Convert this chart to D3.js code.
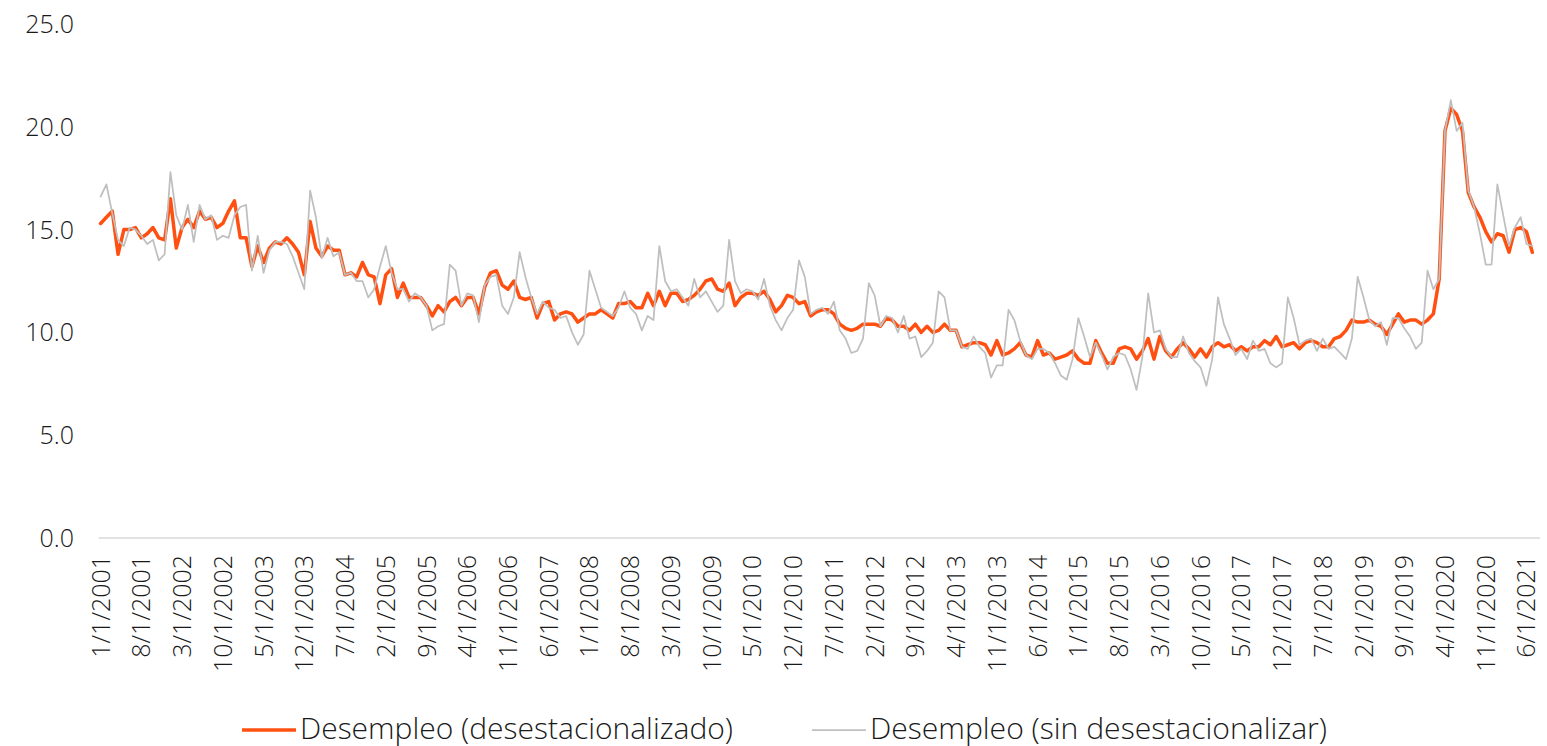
<!DOCTYPE html>
<html lang="es">
	<head>
		<meta charset="utf-8">
		<title>Desempleo</title>
		<script type="text/javascript" src="https://cdn.jsdelivr.net/npm/d3@7"></script>
		<style type="text/css">
		body { margin: 0; background: #fff; }
		text { font-family: "Open Sans", "Lato", sans-serif; font-weight: 300; fill: #1a1a1a; }
		</style>
	</head>
	<body>
		<script type="text/javascript">

		//Width and height
		var w = 1547;
		var h = 746;

		//Monthly series, 1/1/2001 .. 7/1/2021
		var startYear = 2001;

		var desest = [
			15.3, 15.6, 15.9, 13.8, 15.0, 15.0, 15.1, 14.6, 14.8, 15.1, 14.6, 14.5,
			16.5, 14.1, 15.1, 15.5, 15.1, 15.9, 15.5, 15.6, 15.1, 15.3, 15.9, 16.4,
			14.6, 14.6, 13.2, 14.2, 13.4, 14.1, 14.4, 14.3, 14.6, 14.3, 13.9, 12.8,
			15.4, 14.1, 13.7, 14.2, 14.0, 14.0, 12.8, 12.9, 12.7, 13.4, 12.8, 12.7,
			11.4, 12.8, 13.1, 11.7, 12.4, 11.7, 11.7, 11.7, 11.3, 10.8, 11.3, 11.0,
			11.5, 11.7, 11.3, 11.7, 11.7, 10.9, 12.2, 12.9, 13.0, 12.3, 12.1, 12.5,
			11.7, 11.6, 11.7, 10.7, 11.4, 11.5, 10.6, 10.9, 11.0, 10.9, 10.5, 10.7,
			10.9, 10.9, 11.1, 10.9, 10.7, 11.4, 11.4, 11.5, 11.2, 11.2, 11.9, 11.3,
			12.0, 11.3, 11.9, 11.9, 11.5, 11.6, 11.8, 12.1, 12.5, 12.6, 12.1, 12.0,
			12.4, 11.3, 11.7, 11.9, 11.9, 11.8, 12.0, 11.6, 11.0, 11.3, 11.8, 11.7,
			11.4, 11.5, 10.8, 11.0, 11.1, 11.1, 10.9, 10.4, 10.2, 10.1, 10.2, 10.4,
			10.4, 10.4, 10.3, 10.7, 10.6, 10.3, 10.3, 10.1, 10.4, 10.0, 10.3, 10.0,
			10.1, 10.4, 10.1, 10.1, 9.3, 9.4, 9.5, 9.5, 9.4, 8.9, 9.6, 8.9,
			9.0, 9.2, 9.5, 8.9, 8.8, 9.6, 8.9, 9.0, 8.7, 8.8, 8.9, 9.1,
			8.7, 8.5, 8.5, 9.6, 9.0, 8.5, 8.5, 9.2, 9.3, 9.2, 8.7, 9.1,
			9.7, 8.7, 9.8, 9.1, 8.8, 9.2, 9.5, 9.2, 8.8, 9.2, 8.8, 9.3,
			9.5, 9.3, 9.4, 9.1, 9.3, 9.1, 9.3, 9.3, 9.6, 9.4, 9.8, 9.3,
			9.4, 9.5, 9.2, 9.5, 9.6, 9.5, 9.3, 9.3, 9.7, 9.8, 10.1, 10.6,
			10.5, 10.5, 10.6, 10.4, 10.3, 9.9, 10.4, 10.9, 10.5, 10.6, 10.6, 10.4,
			10.6, 10.9, 12.6, 19.8, 20.9, 20.6, 19.8, 16.8, 16.1, 15.6, 14.9, 14.4,
			14.8, 14.7, 13.9, 15.0, 15.1, 14.9, 13.9
		];

		var sinDesest = [
			16.6, 17.2, 15.8, 14.5, 14.2, 15.1, 15.0, 14.7, 14.3, 14.5, 13.5, 13.8,
			17.8, 15.7, 15.0, 16.2, 14.4, 16.2, 15.5, 15.7, 14.5, 14.7, 14.6, 15.7,
			16.1, 16.2, 13.0, 14.7, 12.9, 14.0, 14.4, 14.4, 14.3, 13.7, 12.9, 12.1,
			16.9, 15.6, 13.6, 14.6, 13.7, 13.9, 12.8, 12.9, 12.5, 12.5, 11.7, 12.1,
			13.2, 14.2, 12.9, 12.1, 12.1, 11.5, 11.9, 11.7, 11.3, 10.1, 10.3, 10.4,
			13.3, 13.0, 11.3, 11.9, 11.8, 10.5, 12.3, 12.7, 12.8, 11.3, 10.9, 11.7,
			13.9, 12.7, 11.7, 10.9, 11.5, 11.2, 11.1, 10.7, 10.8, 10.0, 9.4, 9.9,
			13.0, 12.1, 11.2, 11.0, 10.8, 11.2, 12.0, 11.2, 10.9, 10.1, 10.8, 10.6,
			14.2, 12.5, 12.0, 12.1, 11.7, 11.3, 12.6, 11.7, 12.0, 11.5, 11.0, 11.3,
			14.5, 12.5, 11.9, 12.1, 12.0, 11.6, 12.6, 11.3, 10.6, 10.1, 10.7, 11.1,
			13.5, 12.7, 10.9, 11.1, 11.2, 10.9, 11.5, 10.1, 9.7, 9.0, 9.1, 9.7,
			12.4, 11.8, 10.3, 10.8, 10.7, 10.0, 10.8, 9.7, 9.8, 8.8, 9.1, 9.5,
			12.0, 11.7, 10.1, 10.1, 9.3, 9.2, 9.8, 9.3, 9.0, 7.8, 8.4, 8.4,
			11.1, 10.6, 9.6, 8.9, 8.7, 9.2, 9.2, 9.0, 8.5, 7.9, 7.7, 8.7,
			10.7, 9.8, 8.8, 9.5, 8.9, 8.2, 8.8, 9.0, 8.9, 8.2, 7.2, 8.8,
			11.9, 10.0, 10.1, 9.2, 8.8, 8.8, 9.8, 9.0, 8.6, 8.3, 7.4, 8.7,
			11.7, 10.4, 9.7, 8.9, 9.2, 8.7, 9.6, 9.1, 9.2, 8.5, 8.3, 8.5,
			11.7, 10.7, 9.4, 9.6, 9.7, 9.1, 9.7, 9.2, 9.3, 9.0, 8.7, 9.7,
			12.7, 11.7, 10.6, 10.3, 10.5, 9.4, 10.7, 10.7, 10.2, 9.8, 9.2, 9.5,
			13.0, 12.1, 12.6, 19.8, 21.3, 19.8, 20.2, 16.9, 16.1, 14.8, 13.3, 13.3,
			17.2, 15.7, 14.2, 15.1, 15.6, 14.3, 14.2
		];

		var yTicks = [0, 5, 10, 15, 20, 25];

		var tickLabels = [
			"1/1/2001", "8/1/2001", "3/1/2002", "10/1/2002", "5/1/2003", "12/1/2003",
			"7/1/2004", "2/1/2005", "9/1/2005", "4/1/2006", "11/1/2006", "6/1/2007",
			"1/1/2008", "8/1/2008", "3/1/2009", "10/1/2009", "5/1/2010", "12/1/2010",
			"7/1/2011", "2/1/2012", "9/1/2012", "4/1/2013", "11/1/2013", "6/1/2014",
			"1/1/2015", "8/1/2015", "3/1/2016", "10/1/2016", "5/1/2017", "12/1/2017",
			"7/1/2018", "2/1/2019", "9/1/2019", "4/1/2020", "11/1/2020", "6/1/2021"
		];

		var seriesNames = ["Desempleo (desestacionalizado)", "Desempleo (sin desestacionalizar)"];

		//month index of a "M/1/YYYY" label
		function monthIndex(s) {
			var p = s.split("/");
			return (+p[2] - startYear) * 12 + (+p[0] - 1);
		}

		var x = d3.scaleLinear()
			.domain([0, desest.length - 1])
			.range([100.6, 1532.3]);

		var y = d3.scaleLinear()
			.domain([0, 25])
			.range([538, 24]);

		//Create SVG element
		var svg = d3.select("body")
					.append("svg")
					.attr("width", w)
					.attr("height", h);

		//x axis line
		svg.append("line")
			.attr("x1", x(0) - 2)
			.attr("x2", 1540)
			.attr("y1", y(0))
			.attr("y2", y(0))
			.style("stroke", "#d9d9d9")
			.style("stroke-width", 1.5);

		//y labels
		svg.selectAll("text.ylab")
			.data(yTicks)
			.enter()
			.append("text")
			.attr("class", "ylab")
			.attr("x", 74)
			.attr("y", function(d) { return y(d); })
			.attr("dy", "0.36em")
			.attr("text-anchor", "end")
			.style("font-size", "25px")
			.text(function(d) { return d3.format(".1f")(d); });

		//x labels, rotated
		svg.selectAll("text.xlab")
			.data(tickLabels)
			.enter()
			.append("text")
			.attr("class", "xlab")
			.attr("text-anchor", "end")
			.attr("dy", "0.36em")
			.attr("transform", function(d) {
				return "translate(" + x(monthIndex(d)) + ",555) rotate(-90)";
			})
			.style("font-size", "25px")
			.text(function(d) { return d; });

		var line = d3.line()
			.x(function(d, i) { return x(i); })
			.y(function(d) { return y(d); });

		svg.append("path")
			.datum(desest)
			.attr("d", line)
			.style("fill", "none")
			.style("stroke", "#ff5011")
			.style("stroke-width", 3.5)
			.style("stroke-linejoin", "round")
			.style("stroke-linecap", "round");

		svg.append("path")
			.datum(sinDesest)
			.attr("d", line)
			.style("fill", "none")
			.style("stroke", "#bfbfbf")
			.style("stroke-width", 1.75)
			.style("stroke-linejoin", "round")
			.style("stroke-linecap", "round");

		//Legend
		var legend = [
			{ name: seriesNames[0], color: "#ff5011", width: 3.5, x: 242, len: 433 },
			{ name: seriesNames[1], color: "#bfbfbf", width: 1.75, x: 812, len: 457 }
		];

		var lg = svg.selectAll("g.legend")
			.data(legend)
			.enter()
			.append("g")
			.attr("class", "legend")
			.attr("transform", function(d) { return "translate(" + d.x + ",730)"; });

		lg.append("line")
			.attr("x1", 0)
			.attr("x2", 54)
			.style("stroke", function(d) { return d.color; })
			.style("stroke-width", function(d) { return d.width; });

		lg.append("text")
			.attr("x", 58)
			.attr("y", 8.5)
			.attr("textLength", function(d) { return d.len; })
			.attr("lengthAdjust", "spacingAndGlyphs")
			.style("font-size", "29px")
			.text(function(d) { return d.name; });

		</script>
	</body>
</html>
